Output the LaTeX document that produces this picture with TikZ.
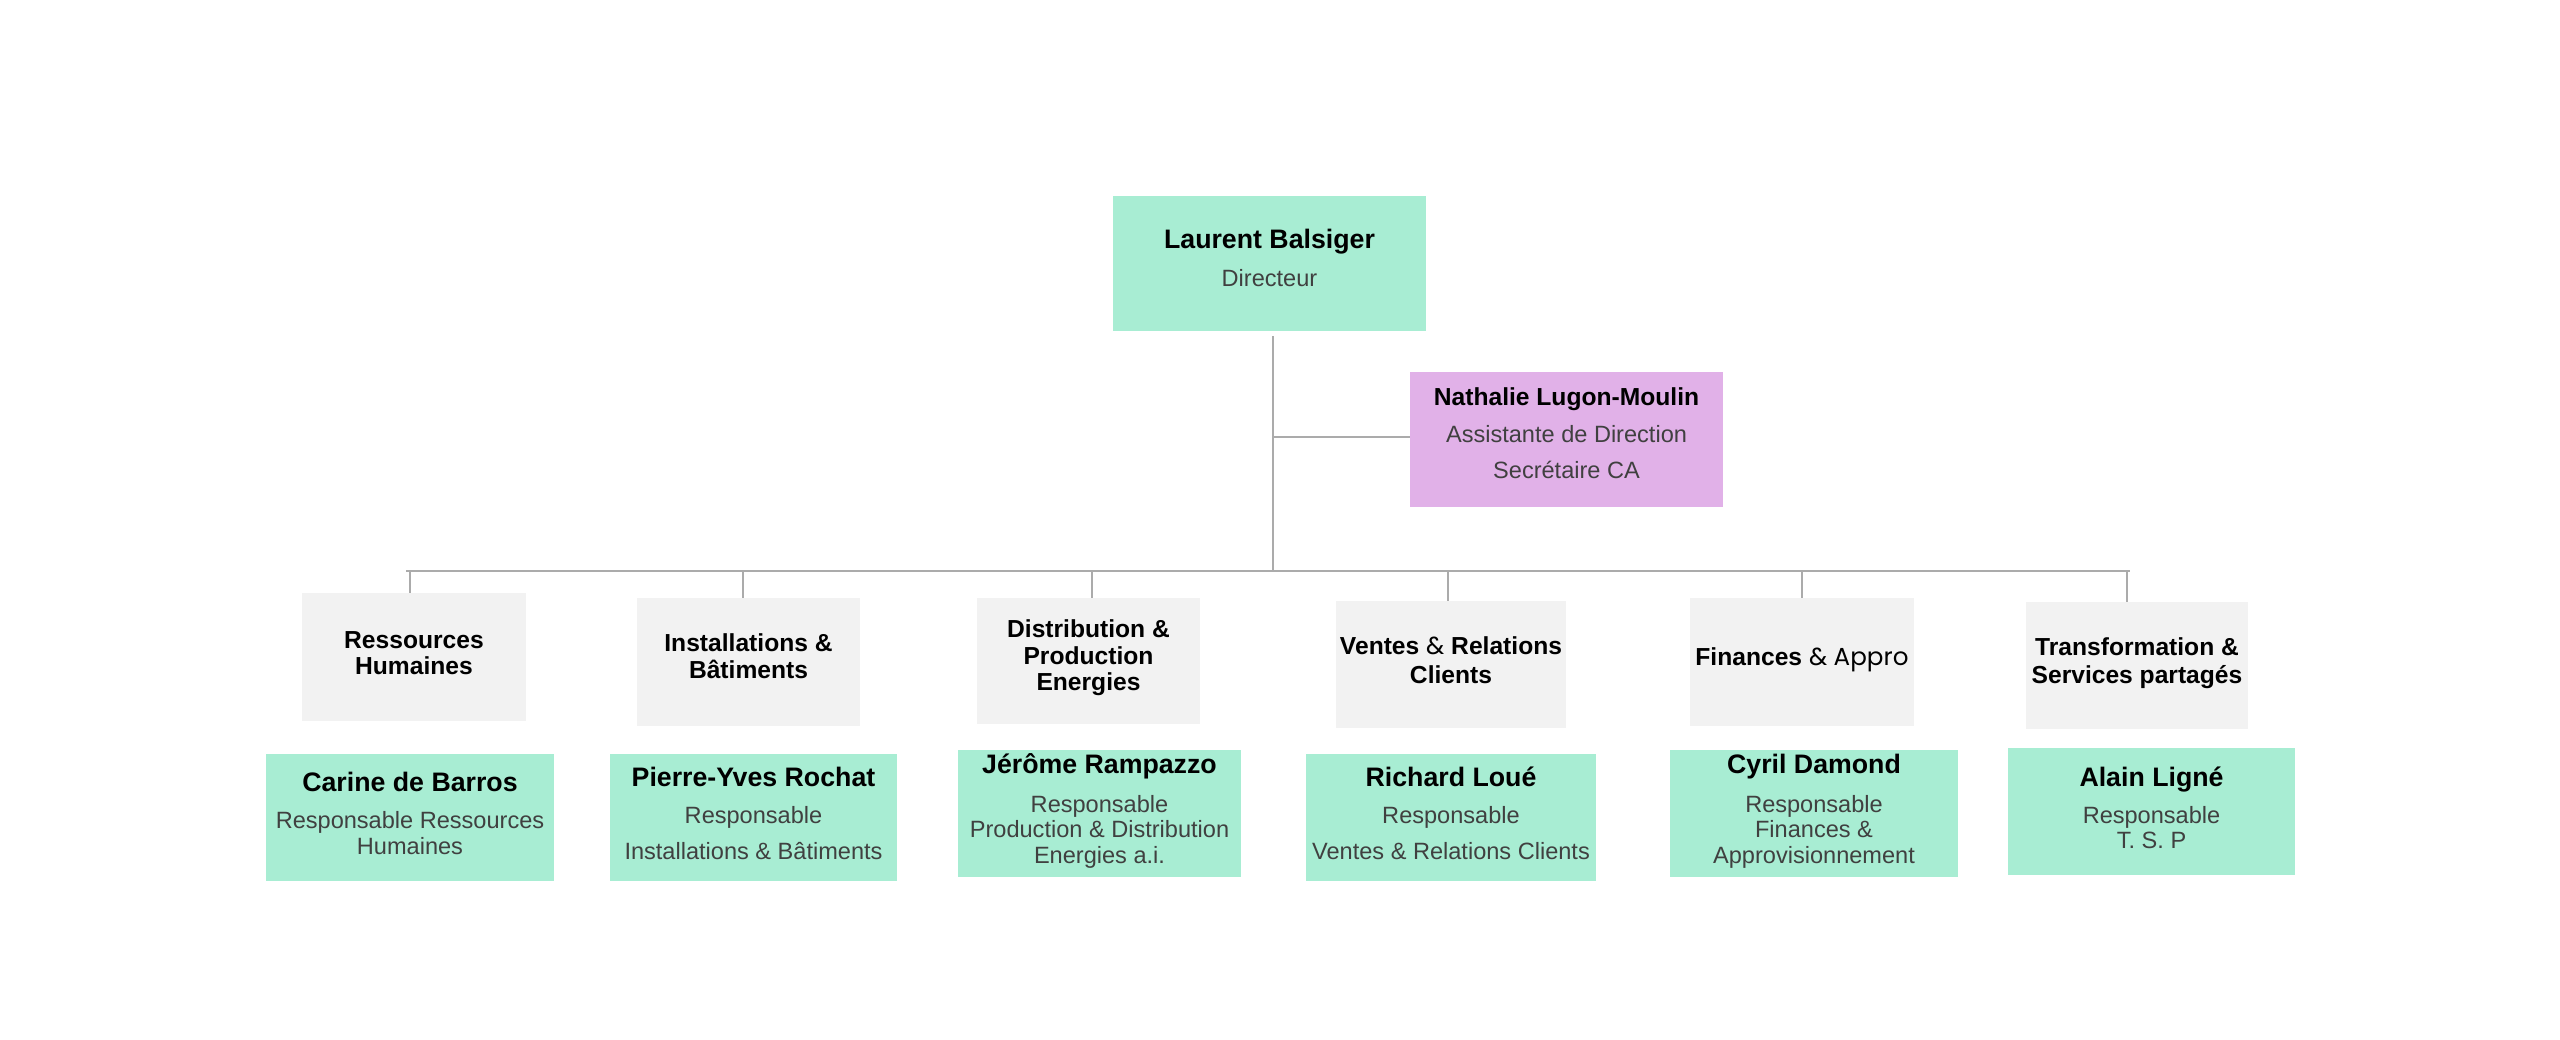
\documentclass[tikz,border=0pt]{standalone}
\usepackage{fontspec}
\setmainfont{Liberation Sans}
\newfontfamily\geo{Poppins}
\usetikzlibrary{fit}
\definecolor{mint}{HTML}{A8EDD3}
\definecolor{lav}{HTML}{E1B1E8}
\definecolor{dgray}{HTML}{F2F2F2}
\definecolor{lnc}{HTML}{ABABAB}
\definecolor{subc}{HTML}{404040}
\begin{document}
\begin{tikzpicture}[x=0.01cm,y=-0.01cm,
 bx/.style={inner sep=0pt, outer sep=0pt, draw=none},
 mintbox/.style={bx, fill=mint},
 lavbox/.style={bx, fill=lav},
 deptbox/.style={bx, fill=dgray},
 nm/.style={anchor=base, inner sep=0pt, font=\fontsize{7.6}{9}\selectfont\bfseries},
 nmsm/.style={anchor=base, inner sep=0pt, font=\fontsize{7.0}{8.4}\selectfont\bfseries},
 dt/.style={anchor=base, inner sep=0pt, font=\fontsize{7.0}{8.4}\selectfont\bfseries},
 sbt/.style={anchor=base, inner sep=0pt, font=\fontsize{6.7}{8}\selectfont, text=subc},
 conn/.style={draw=lnc, line width=0.6pt}]
\useasboundingbox (0,0) rectangle (2560,1040);

% boxes
\node[mintbox, fit={(1113,196) (1426,331)}] (dir) {};
\node[lavbox, fit={(1410,372) (1723,507)}] (nat) {};
\node[deptbox, fit={(302,593) (526,721)}] (d1) {};
\node[deptbox, fit={(637,598) (860,726)}] (d2) {};
\node[deptbox, fit={(977,598) (1200,724)}] (d3) {};
\node[deptbox, fit={(1336,601) (1566,728)}] (d4) {};
\node[deptbox, fit={(1690,598) (1914,726)}] (d5) {};
\node[deptbox, fit={(2026,602) (2248,729)}] (d6) {};
\node[mintbox, fit={(266,754) (554,881)}] (p1) {};
\node[mintbox, fit={(610,754) (897,881)}] (p2) {};
\node[mintbox, fit={(958,750) (1241,877)}] (p3) {};
\node[mintbox, fit={(1306,754) (1596,881)}] (p4) {};
\node[mintbox, fit={(1670,750) (1958,877)}] (p5) {};
\node[mintbox, fit={(2008,748) (2295,875)}] (p6) {};

% connectors
\coordinate (jt) at (1273,571);
\coordinate (sbr) at (1273,437);
\coordinate (busL) at (406,571);
\coordinate (busR) at (2130,571);
\coordinate (k1) at (410,571);
\coordinate (k2) at (743,571);
\coordinate (k3) at (1092,571);
\coordinate (k4) at (1448,571);
\coordinate (k5) at (1802,571);
\coordinate (k6) at (2127,571);
\draw[conn, shorten <=0.05cm] (jt |- dir.south) -- (jt);
\draw[conn] (sbr) -- (sbr -| nat.west);
\draw[conn] (busL) -- (busR);
\draw[conn] (k1) -- (k1 |- d1.north);
\draw[conn] (k2) -- (k2 |- d2.north);
\draw[conn] (k3) -- (k3 |- d3.north);
\draw[conn] (k4) -- (k4 |- d4.north);
\draw[conn] (k5) -- (k5 |- d5.north);
\draw[conn] (k6) -- (k6 |- d6.north);

% texts
\node[nm] (dirA) at (1269.5,249) {Laurent Balsiger};
\node[sbt] (dirB) at (1269.5,287) {Directeur};
\node[nmsm] (natA) at (1566.5,406) {Nathalie Lugon-Moulin};
\node[sbt] (natB) at (1566.5,443) {Assistante de Direction};
\node[sbt] (natC) at (1566.5,479) {Secrétaire CA};

\node[dt] (d1a) at (414,648) {Ressources};
\node[dt] (d1b) at (414,674) {Humaines};
\node[dt] (d2a) at (748.5,652) {Installations \&};
\node[dt] (d2b) at (748.5,678) {Bâtiments};
\node[dt] (d3a) at (1088.5,637) {Distribution \&};
\node[dt] (d3b) at (1088.5,665) {Production};
\node[dt] (d3c) at (1088.5,690) {Energies};
\node[dt] (d4a) at (1451,655) {Ventes {\geo\mdseries\&} Relations};
\node[dt] (d4b) at (1451,683) {Clients};
\node[dt] (d5a) at (1802,666) {Finances {\geo\mdseries\& Appro}};
\node[dt] (d6a) at (2137,656) {Transformation \&};
\node[dt] (d6b) at (2137,683) {Services partagés};

\node[nm] (p1a) at (410,791) {Carine de Barros};
\node[sbt] (p1b) at (410,828) {Responsable Ressources};
\node[sbt] (p1c) at (410,854) {Humaines};
\node[nm] (p2a) at (753.5,786) {Pierre-Yves Rochat};
\node[sbt] (p2b) at (753.5,823) {Responsable};
\node[sbt] (p2c) at (753.5,859) {Installations \& Bâtiments};
\node[nm] (p3a) at (1099.5,773) {Jérôme Rampazzo};
\node[sbt] (p3b) at (1099.5,812) {Responsable};
\node[sbt] (p3c) at (1099.5,837) {Production \& Distribution};
\node[sbt] (p3d) at (1099.5,863) {Energies a.i.};
\node[nm] (p4a) at (1451,786) {Richard Loué};
\node[sbt] (p4b) at (1451,823) {Responsable};
\node[sbt] (p4c) at (1451,859) {Ventes \& Relations Clients};
\node[nm] (p5a) at (1814,773) {Cyril Damond};
\node[sbt] (p5b) at (1814,812) {Responsable};
\node[sbt] (p5c) at (1814,837) {Finances \&};
\node[sbt] (p5d) at (1814,863) {Approvisionnement};
\node[nm] (p6a) at (2151.5,786) {Alain Ligné};
\node[sbt] (p6b) at (2151.5,823) {Responsable};
\node[sbt] (p6c) at (2151.5,848) {T. S. P};
\end{tikzpicture}
\end{document}
